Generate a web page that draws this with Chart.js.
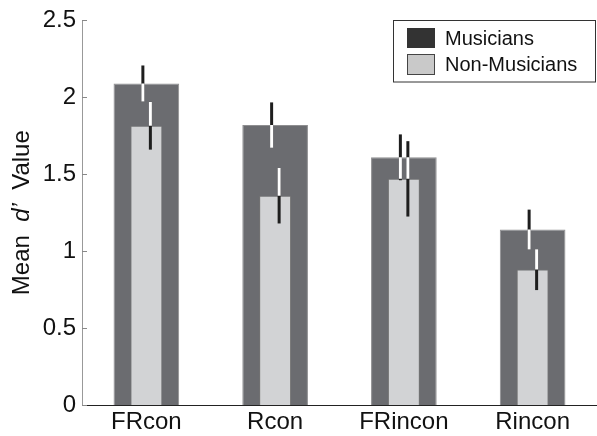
<!DOCTYPE html>
<html lang="en">
<head>
<meta charset="UTF-8">
<title>Mean d' Value</title>
<script src="https://cdn.jsdelivr.net/npm/chart.js"></script>
<style>
  html, body { margin: 0; padding: 0; background: #ffffff; }
  #wrap { width: 597px; height: 436px; }
</style>
</head>
<body>
<div id="wrap"><canvas id="chart" width="597" height="436"></canvas></div>
<script>
  // Mean d' per condition, with error bar half-lengths
  const categories = ['FRcon', 'Rcon', 'FRincon', 'Rincon'];
  const seriesNames = ['Musicians', 'Non-Musicians'];
  const musicians = [2.09, 1.82, 1.61, 1.14];
  const musiciansErr = [0.117, 0.147, 0.149, 0.13];
  const nonMusicians = [1.815, 1.36, 1.47, 0.88];
  const nonMusiciansErr = [0.155, 0.18, 0.245, 0.133];
  const yTicks = [0, 0.5, 1, 1.5, 2, 2.5];

  const FONT = "'Liberation Sans', Arial, Helvetica, sans-serif";
  const DARK = '#6b6c70';
  const LIGHT = '#d2d3d5';

  // vertical error bars: black on white/light gray, white over the dark bars
  const errorBars = {
    id: 'errorBars',
    afterDatasetsDraw(chart) {
      const ctx = chart.ctx;
      const y = chart.scales.y;
      const dark = chart.getDatasetMeta(1).data;
      const light = chart.getDatasetMeta(0).data;
      const sets = [
        { bars: dark, vals: musicians, errs: musiciansErr, dx: -3.5 },
        { bars: light, vals: nonMusicians, errs: nonMusiciansErr, dx: 4 }
      ];
      const drawLines = (color) => {
        ctx.strokeStyle = color;
        ctx.lineWidth = 3;
        ctx.lineCap = 'butt';
        sets.forEach(s => s.bars.forEach((bar, i) => {
          const x = bar.x + s.dx;
          ctx.beginPath();
          ctx.moveTo(x, y.getPixelForValue(s.vals[i] + s.errs[i]));
          ctx.lineTo(x, y.getPixelForValue(s.vals[i] - s.errs[i]));
          ctx.stroke();
        }));
      };
      ctx.save();
      drawLines('#1e1e1e');
      ctx.restore();

      ctx.save();
      ctx.beginPath();
      dark.concat(light).forEach(b => {
        const p = b.getProps(['x', 'y', 'base', 'width'], true);
        ctx.rect(p.x - p.width / 2, p.y, p.width, p.base - p.y);
      });
      ctx.clip('evenodd');
      drawLines('#ffffff');
      ctx.restore();
    }
  };

  // y title with italic d', inward ticks and the boxed legend
  const decorations = {
    id: 'decorations',
    afterDraw(chart) {
      const ctx = chart.ctx;
      const area = chart.chartArea;
      const y = chart.scales.y;

      ctx.save();
      ctx.strokeStyle = '#888888';
      ctx.lineWidth = 1;
      yTicks.forEach(v => {
        const py = Math.round(y.getPixelForValue(v)) + 0.5;
        ctx.beginPath();
        ctx.moveTo(area.left, py);
        ctx.lineTo(area.left + 5, py);
        ctx.stroke();
      });
      ctx.restore();

      // rotated title
      const parts = [
        { t: 'Mean  ', f: '24px ' + FONT },
        { t: 'd\u2019', f: 'italic 24px ' + FONT },
        { t: '  Value', f: '24px ' + FONT }
      ];
      ctx.save();
      let total = 0;
      parts.forEach(p => { ctx.font = p.f; p.w = ctx.measureText(p.t).width; total += p.w; });
      ctx.translate(22, (area.top + area.bottom) / 2);
      ctx.rotate(-Math.PI / 2);
      ctx.fillStyle = '#111111';
      ctx.textBaseline = 'middle';
      let x = -total / 2;
      parts.forEach(p => { ctx.font = p.f; ctx.fillText(p.t, x, 0); x += p.w; });
      ctx.restore();

      // legend
      ctx.save();
      ctx.fillStyle = '#ffffff';
      ctx.fillRect(393.5, 20.5, 202, 61.5);
      ctx.strokeStyle = '#333333';
      ctx.lineWidth = 1;
      ctx.strokeRect(393.5, 20.5, 202, 61.5);
      ctx.fillStyle = '#333333';
      ctx.fillRect(407, 28, 28, 20);
      ctx.fillStyle = '#c9c9c9';
      ctx.fillRect(407, 54, 28, 21);
      ctx.strokeStyle = '#444444';
      ctx.strokeRect(407.5, 54.5, 27, 20);
      ctx.fillStyle = '#111111';
      ctx.font = '20px ' + FONT;
      ctx.textBaseline = 'middle';
      ctx.fillText(seriesNames[0], 445, 39);
      ctx.fillText(seriesNames[1], 445, 65);
      ctx.restore();
    }
  };

  new Chart(document.getElementById('chart'), {
    type: 'bar',
    data: {
      labels: categories,
      datasets: [
        {
          label: seriesNames[1],
          data: nonMusicians,
          backgroundColor: LIGHT,
          borderColor: '#747474',
          borderWidth: 1,
          grouped: false,
          categoryPercentage: 1,
          barPercentage: 0.248
        },
        {
          label: seriesNames[0],
          data: musicians,
          backgroundColor: DARK,
          borderColor: '#8e8e90',
          borderWidth: 1,
          grouped: false,
          categoryPercentage: 1,
          barPercentage: 0.51
        }
      ]
    },
    options: {
      responsive: false,
      animation: false,
      layout: { padding: { top: 18, right: -3, left: 0, bottom: 0 } },
      plugins: {
        legend: { display: false },
        tooltip: { enabled: false }
      },
      scales: {
        x: {
          grid: { display: false, drawTicks: false },
          border: { display: true, color: '#222222', width: 1 },
          ticks: { color: '#111111', font: { family: FONT, size: 24 }, padding: 3 },
          afterFit(scale) { scale.height = 31; }
        },
        y: {
          min: 0,
          max: 2.5,
          grid: { display: false, drawTicks: false },
          border: { display: true, color: '#999999', width: 1 },
          ticks: {
            stepSize: 0.5,
            color: '#111111',
            font: { family: FONT, size: 24 },
            padding: 6,
            callback: (v) => String(v)
          },
          afterFit(scale) { scale.width = 82; }
        }
      }
    },
    plugins: [errorBars, decorations]
  });
</script>
</body>
</html>
